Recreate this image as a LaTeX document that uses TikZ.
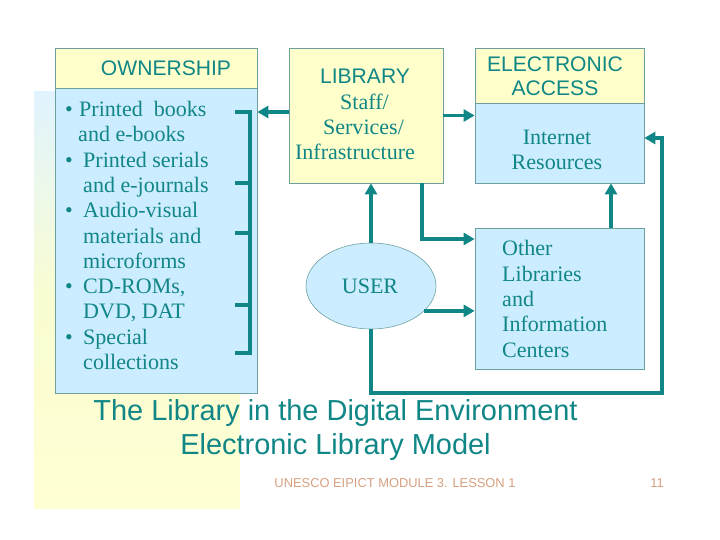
\documentclass[tikz,border=0pt]{standalone}
\usepackage{fontspec}
\setmainfont{Liberation Serif}
\setsansfont{Liberation Sans}
\usepackage{xcolor}
\definecolor{libteal}{RGB}{16, 134, 134}
\definecolor{libyellow}{RGB}{255, 255, 204}
\definecolor{libblue}{RGB}{204, 236, 255}
\definecolor{libedge}{RGB}{110, 160, 160}
\definecolor{libfoot}{RGB}{214, 160, 128}
\usetikzlibrary{arrows.meta,positioning,shapes.geometric,calc}
\newcommand{\bul}{\makebox[0.54cm][l]{\textbullet}}
\newcommand{\ind}{\hspace*{0.54cm}}

\begin{document}
\begin{tikzpicture}[x=0.03cm, y=-0.03cm,
    panel/.style={rectangle, draw=libedge, line width=0.6pt, inner sep=0pt},
    flow/.style={draw=libteal, line width=3.4pt, -{Triangle[length=0.33cm, width=0.36cm]}},
    link/.style={draw=libteal, line width=3.4pt},
    serif/.style={font=\fontsize{18.8}{21.6}\selectfont, text=libteal, inner sep=0pt},
    sans/.style={font=\sffamily\fontsize{18}{20.4}\selectfont, text=libteal, inner sep=0pt}]
    \useasboundingbox (0, 0) rectangle (720, 540);

    % Background
    \shade[top color=libblue!60!white, bottom color=libyellow!85!white, middle color=libyellow!90!libblue] (34, 92) rectangle (240, 508);

    % Ownership
    \node[panel, fill=libblue, minimum width=6.06cm, minimum height=10.35cm] (own) at (156, 220.5) {};
    \node[panel, fill=libyellow, minimum width=6.06cm, minimum height=1.2cm, anchor=north] (ownhead) at (own.north) {};
    \node[sans] (owntitle) at (166, 68) {OWNERSHIP};
    \node[serif, align=left, anchor=north west] (ownlist) at (65, 101) {
        \makebox[0.42cm][l]{\textbullet}Printed\ \ books\\ \hspace*{0.39cm}and e-books\\
        \bul Printed serials\\ \ind and e-journals\\
        \bul Audio-visual\\ \ind materials and\\ \ind microforms\\
        \bul CD-ROMs,\\ \ind DVD, DAT\\
        \bul Special\\ \ind collections};

    % Library
    \node[panel, fill=libyellow, minimum width=4.62cm, minimum height=4.05cm] (lib) at (366, 115.5) {};
    \node[sans] (libtitle) at (365, 76) {LIBRARY};
    \node[serif, align=center] (libtext) at (355, 127) {\hspace*{0.57cm}Staff/\\\hspace*{0.51cm}Services/\\Infrastructure};

    % Electronic access
    \node[panel, fill=libblue, minimum width=5.07cm, minimum height=4.05cm] (ea) at (559.5, 115.5) {};
    \node[panel, fill=libyellow, minimum width=5.07cm, minimum height=1.65cm, anchor=north] (eahead) at (ea.north) {};
    \node[sans, align=center] (eatitle) at (555, 76) {ELECTRONIC\\ACCESS};
    \node[serif, align=center] (eatext) at (557, 150) {Internet\\Resources};

    % Other libraries
    \node[panel, fill=libblue, minimum width=5.07cm, minimum height=4.23cm] (oth) at (559.5, 298.5) {};
    \node[serif, align=left, anchor=west] (othtext) at (502, 299) {Other\\Libraries\\and\\Information\\Centers};

    % User
    \node[ellipse, draw=libedge, line width=0.5pt, fill=libblue, minimum width=3.9cm, minimum height=2.58cm] (user) at (371, 286) {};
    \node[serif] (usertext) at (370, 286) {USER};

    % Bracket
    \coordinate (b1) at (250, 112);
    \coordinate (b2) at (250, 183);
    \coordinate (b3) at (250, 233);
    \coordinate (b4) at (250, 305);
    \coordinate (b5) at (250, 353);
    \draw[link, line join=miter] (b1) ++(-15, 0) -- (b1) -- (b5) -- ++(-15, 0);
    \draw[link] (b2) -- ++(-15, 0);
    \draw[link] (b3) -- ++(-15, 0);
    \draw[link] (b4) -- ++(-15, 0);

    % Flows
    \coordinate (k1) at (422, 239);
    \coordinate (k2) at (611, 228);
    \coordinate (r1) at (662, 393);
    \coordinate (r2) at (662, 138);
    \draw[flow] (lib.west |- b1) -- (own.east |- b1);
    \draw[flow] (lib.east) -- (ea.west |- lib.east);
    \draw[flow] (user.north) -- (user.north |- lib.south);
    \draw[flow] (lib.south -| k1) |- (oth.west |- k1);
    \draw[flow] (oth.north -| k2) -- (ea.south -| k2);
    \draw[flow] (user.-25) -- (oth.west |- user.-25);
    \draw[flow, line join=miter] (user.south) |- (r1) -- (r2) -- (ea.east |- r2);

    % Caption
    \node[sans, align=center, font=\sffamily\fontsize{24.7}{29}\selectfont] (title) at (335.5, 430.5) {The Library in the Digital Environment\\Electronic Library Model};
    \node[font=\sffamily\fontsize{11}{13}\selectfont, text=libfoot, inner sep=0pt] (foot) at (395, 483) {UNESCO EIPICT MODULE 3. LESSON 1};
    \node[font=\sffamily\fontsize{11}{13}\selectfont, text=libfoot, inner sep=0pt] (page) at (657, 483) {11};
\end{tikzpicture}
\end{document}
